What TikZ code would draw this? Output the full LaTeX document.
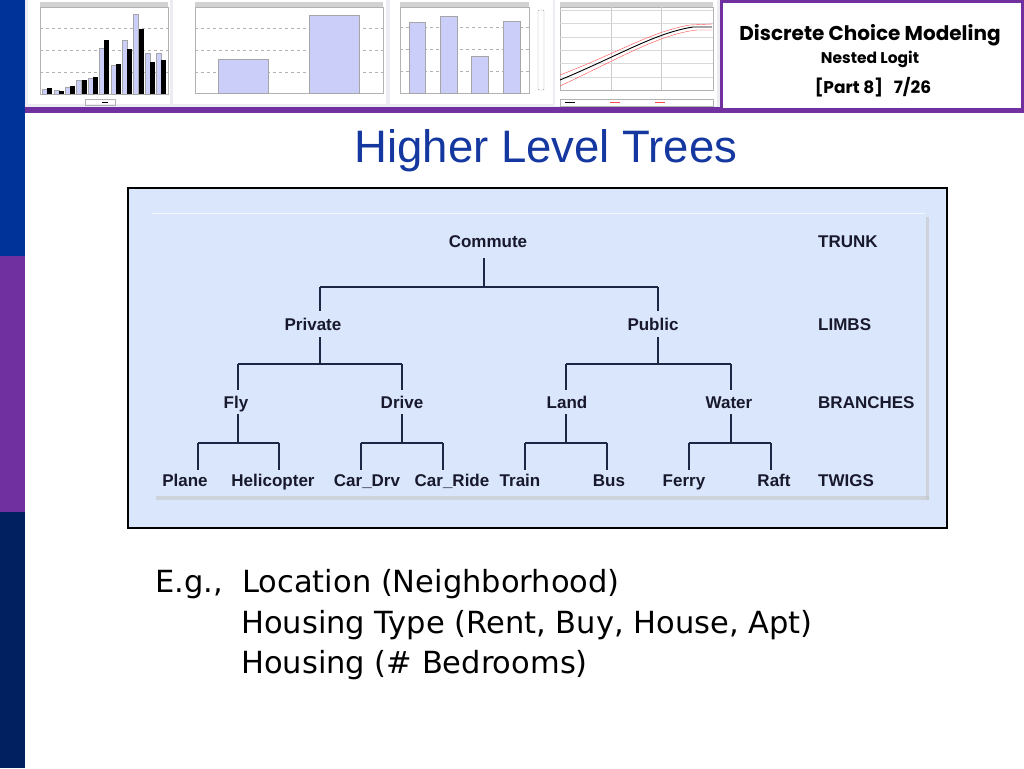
\documentclass[tikz,border=0pt]{standalone}
\usepackage{fontspec}
\setmainfont{Liberation Sans}
\newfontfamily\hdrfont{Poppins}
\newfontfamily\bodyfont{DejaVu Sans}
\definecolor{barblue}{RGB}{0,51,153}
\definecolor{barpurple}{RGB}{112,48,160}
\definecolor{barnavy}{RGB}{0,32,96}
\definecolor{titleblue}{RGB}{20,55,160}
\definecolor{panelfill}{RGB}{218,230,252}
\definecolor{treeline}{RGB}{30,38,70}
\definecolor{treetext}{RGB}{25,25,45}
\definecolor{lav}{RGB}{204,206,250}
\definecolor{chartbg}{RGB}{236,236,242}
\tikzset{
  lvl/.style={font=\bfseries\fontsize{17}{19}\selectfont, text=treetext, inner sep=1pt, text height=12pt, text depth=1pt},
  tl/.style={draw=treeline, line width=1.6pt},
  tv/.style={draw=treeline, line width=1.2pt},
  lbar/.style={fill=lav, draw=gray!70, line width=0.4pt},
  kbar/.style={fill=black},
  grid/.style={draw=gray!60, dashed, line width=0.4pt},
  body/.style={anchor=base west, font=\bodyfont\fontsize{30.5}{34}\selectfont, inner sep=0pt}
}
\begin{document}
\begin{tikzpicture}[x=1pt,y=-1pt]
\useasboundingbox (0,0) rectangle (1024,768);
\fill[white] (0,0) rectangle (1024,768);
% left bar
\fill[barblue] (0,0) rectangle (25,256);
\fill[barpurple] (0,256) rectangle (25,512);
\fill[barnavy] (0,512) rectangle (25,768);
% top strip
\fill[chartbg] (25,0) rectangle (720,108);
\fill[barpurple] (25,107) rectangle (1024,113);
% chart 1
\fill[white] (28,0) rectangle (170,104);
\fill[white] (40,7) rectangle (168,94);
\draw[gray!60, line width=0.4pt] (40,7) rectangle (168,94);
\fill[gray!35] (40,2) rectangle (168,7);
\foreach \yy in {28,50,72} \draw[grid] (40,\yy) -- (168,\yy);
\foreach \i/\a/\b in {0/89/88,1/90/91,2/87/86,3/80/80,4/78/77,5/48/40,6/65/64,7/40/49,8/14/29,9/53/62,10/53/60}{
  \draw[lbar] ({42.3+11.4*\i},94) rectangle ({47.3+11.4*\i},\a);
  \fill[kbar] ({47.3+11.4*\i},94) rectangle ({52.3+11.4*\i},\b);
}
\draw[gray!60, line width=0.4pt] (85,99) rectangle (115,105);
\fill[black] (102,101.5) rectangle (108,102.5);
% chart 2
\fill[white] (173,0) rectangle (386,104);
\fill[gray!35] (195,2) rectangle (383,7);
\draw[gray!60, line width=0.4pt] (195,7) rectangle (383,93);
\foreach \yy in {28,50,72} \draw[grid] (195,\yy) -- (383,\yy);
\draw[lbar] (218,93) rectangle (268,59);
\draw[lbar] (309,93) rectangle (359,15);
% chart 3
\fill[white] (390,0) rectangle (553,104);
\fill[gray!35] (400,2) rectangle (529,7);
\draw[gray!60, line width=0.4pt] (400,7) rectangle (529,93);
\foreach \yy in {27,49,71} \draw[grid] (400,\yy) -- (529,\yy);
\draw[lbar] (409,93) rectangle (425,22);
\draw[lbar] (440,93) rectangle (457,16);
\draw[lbar] (471,93) rectangle (488,56);
\draw[lbar] (503,93) rectangle (520,21);
\draw[gray!70, line width=0.4pt, rounded corners=1pt] (538,10) rectangle (544,90);
% chart 4
\fill[white] (555,0) rectangle (717,106);
\fill[gray!35] (560,2) rectangle (713,7);
\draw[gray!60, line width=0.4pt] (560,7) rectangle (713,90);
\foreach \xx in {611,661} \draw[gray!40, line width=0.4pt] (\xx,7) -- (\xx,90);
\foreach \yy in {10,23,37,50,63,77} \draw[gray!30, line width=0.3pt] (560,\yy) -- (713,\yy);
\draw[red!70, line width=0.4pt] (560,75) .. controls (620,52) and (650,32) .. (690,25) -- (712,24);
\draw[red!70, line width=0.4pt] (560,86) .. controls (620,58) and (660,34) .. (697,30) -- (712,30);
\draw[black, line width=0.9pt] (560,80) .. controls (620,55) and (655,33) .. (693,27) -- (712,27);
\draw[gray!60, line width=0.4pt] (560,99) rectangle (713,106);
\draw[black, line width=0.6pt] (565,102.5) -- (575,102.5);
\draw[red!70, line width=0.4pt] (610,102.5) -- (620,102.5);
\draw[red!70, line width=0.4pt] (655,102.5) -- (665,102.5);
% header box
\fill[white] (720,0) rectangle (1022,110);
\draw[barpurple, line width=3pt] (721.5,1.5) rectangle (1022.5,109);
\node[font=\hdrfont\bfseries\fontsize{20}{22}\selectfont] (hdr1) at (870,35) {Discrete Choice Modeling};
\node[font=\hdrfont\bfseries\fontsize{15.5}{17}\selectfont] (hdr2) at (870,59) {Nested Logit};
\node[font=\hdrfont\bfseries\fontsize{17}{19}\selectfont] (hdr3) at (873,87) {[Part 8]\ \ \ 7/26};
% title
\node[font=\fontsize{45.5}{50}\selectfont, text=titleblue] (title) at (546,151) {Higher Level Trees};
% diagram frame
\draw[black, line width=2pt, fill=panelfill] (128,188) rectangle (947,528);
\fill[gray!45, opacity=0.6] (926,217) rectangle (929,500);
\fill[gray!45, opacity=0.6] (156,496) rectangle (929,500);
\draw[white!70!panelfill, line width=0.8pt] (152,213) -- (925,213);
% tree nodes
\node[lvl] (commute) at (488,242) {Commute};
\node[lvl] (private) at (313,325) {Private};
\node[lvl] (public) at (653,325) {Public};
\node[lvl] (fly) at (236,403) {Fly};
\node[lvl] (drive) at (402,403) {Drive};
\node[lvl] (land) at (567,403) {Land};
\node[lvl] (water) at (729,403) {Water};
\node[lvl] (plane) at (185,481) {Plane};
\node[lvl] (heli) at (273,481) {Helicopter};
\node[lvl] (cardrv) at (367,481) {Car\_Drv};
\node[lvl] (carride) at (452,481) {Car\_Ride};
\node[lvl] (train) at (520,481) {Train};
\node[lvl] (bus) at (609,481) {Bus};
\node[lvl] (ferry) at (684,481) {Ferry};
\node[lvl] (raft) at (774,481) {Raft};
\node[lvl, anchor=west] (trunk) at (817,242) {TRUNK};
\node[lvl, anchor=west] (limbs) at (817,325) {LIMBS};
\node[lvl, anchor=west] (branches) at (817,403) {BRANCHES};
\node[lvl, anchor=west] (twigs) at (817,481) {TWIGS};
% tree connectors
\coordinate (j1) at (484,287);
\coordinate (j2) at (320,364);
\coordinate (j3) at (658,364);
\draw[tv] (484,258) -- (j1);
\draw[tl] (320,287) -- (658,287);
\draw[tv] (320,287) -- (320,311);
\draw[tv] (658,287) -- (658,311);
\draw[tv] (320,337) -- (j2);
\draw[tv] (658,337) -- (j3);
\draw[tl] (238,364) -- (402,364);
\draw[tl] (566,364) -- (731,364);
\foreach \xx in {238,402,566,731} \draw[tv] (\xx,364) -- (\xx,390);
\foreach \xx in {238,402,566,731} \draw[tv] (\xx,414) -- (\xx,443);
\draw[tl] (198,443) -- (279,443);
\draw[tl] (361,443) -- (443,443);
\draw[tl] (525,443) -- (607,443);
\draw[tl] (689,443) -- (771,443);
\foreach \xx in {198,279,361,443,525,607,689,771} \draw[tv] (\xx,443) -- (\xx,470);
% body text
\node[body] (eg) at (155,592) {E.g.,\ \ Location (Neighborhood)};
\node[body] (ht) at (241,633) {Housing Type (Rent, Buy, House, Apt)};
\node[body] (hb) at (241,673) {Housing (\# Bedrooms)};
\end{tikzpicture}
\end{document}
